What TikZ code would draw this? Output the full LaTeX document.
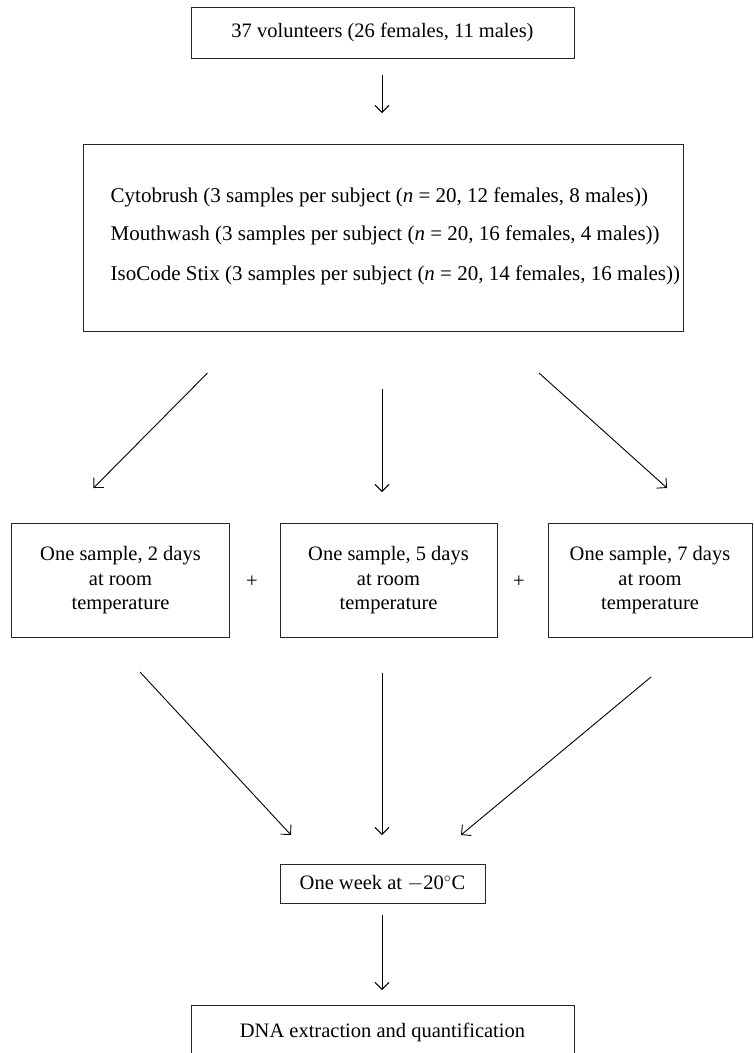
\documentclass[tikz,border=0pt]{standalone}
\usepackage{fontspec}
\setmainfont{Liberation Serif}
\usetikzlibrary{arrows.meta}
\begin{document}
\begin{tikzpicture}[x=1pt,y=-1pt,
  box/.style={draw=black!85, line width=1pt, inner sep=0pt, align=center,
    font=\fontsize{20.5}{24.5}\selectfont},
  txt/.style={inner sep=0pt, font=\fontsize{20.5}{24.5}\selectfont},
  bigtxt/.style={inner sep=0pt, anchor=base west, font=\fontsize{21}{25}\selectfont},
  arr/.style={line width=0.9pt, -{Straight Barb[length=7pt,width=14pt,line width=0.9pt]}}]
\useasboundingbox (0,0) rectangle (753,1053);
\clip (0,0) rectangle (753,1053);
\fill[white] (0,0) rectangle (753,1053);
% top box
\node[box, minimum width=383, minimum height=51] (top) at (382.5,32.5) {37 volunteers (26 females, 11 males)};
% big box
\node[box, minimum width=600, minimum height=187] (big) at (383,237.5) {};
\node[bigtxt] (l1) at (110.5,202) {Cytobrush (3 samples per subject (\textit{n} = 20, 12 females, 8 males))};
\node[bigtxt] (l2) at (110.5,240) {Mouthwash (3 samples per subject (\textit{n} = 20, 16 females, 4 males))};
\node[bigtxt] (l3) at (110.5,280) {IsoCode Stix (3 samples per subject (\textit{n} = 20, 14 females, 16 males))};
% three boxes
\node[box, minimum width=218, minimum height=114] (b1) at (120.5,580.5) {One sample, 2 days\\at room\\temperature};
\node[box, minimum width=217, minimum height=114] (b2) at (388.5,580.5) {One sample, 5 days\\at room\\temperature};
\node[box, minimum width=204, minimum height=114] (b3) at (650,580.5) {One sample, 7 days\\at room\\temperature};
\node[txt] (p1) at (252,582) {+};
\node[txt] (p2) at (519,582) {+};
% freeze box
\node[box, minimum width=205, minimum height=39] (freeze) at (382.5,883.5) {One week at $-$20$^\circ$C};
% DNA box
\node[box, minimum width=383, minimum height=54] (dna) at (382.5,1032) {DNA extraction and quantification};
% arrow coordinates
\coordinate (a0s) at (382,75);  \coordinate (a0e) at (382,113);
\coordinate (a1s) at (207.5,373); \coordinate (a1e) at (93.5,488);
\coordinate (a2s) at (382,389); \coordinate (a2e) at (382,492);
\coordinate (a3s) at (539,373); \coordinate (a3e) at (667,488);
\coordinate (c1s) at (140,672); \coordinate (c1e) at (291,835);
\coordinate (c2s) at (382,673); \coordinate (c2e) at (382,835);
\coordinate (c3s) at (651,677); \coordinate (c3e) at (461,835);
\coordinate (d0s) at (382,915); \coordinate (d0e) at (382,990);
\draw[arr] (a0s) -- (a0e);
\draw[arr] (a1s) -- (a1e);
\draw[arr] (a2s) -- (a2e);
\draw[arr] (a3s) -- (a3e);
\draw[arr] (c1s) -- (c1e);
\draw[arr] (c2s) -- (c2e);
\draw[arr] (c3s) -- (c3e);
\draw[arr] (d0s) -- (d0e);
\end{tikzpicture}
\end{document}
